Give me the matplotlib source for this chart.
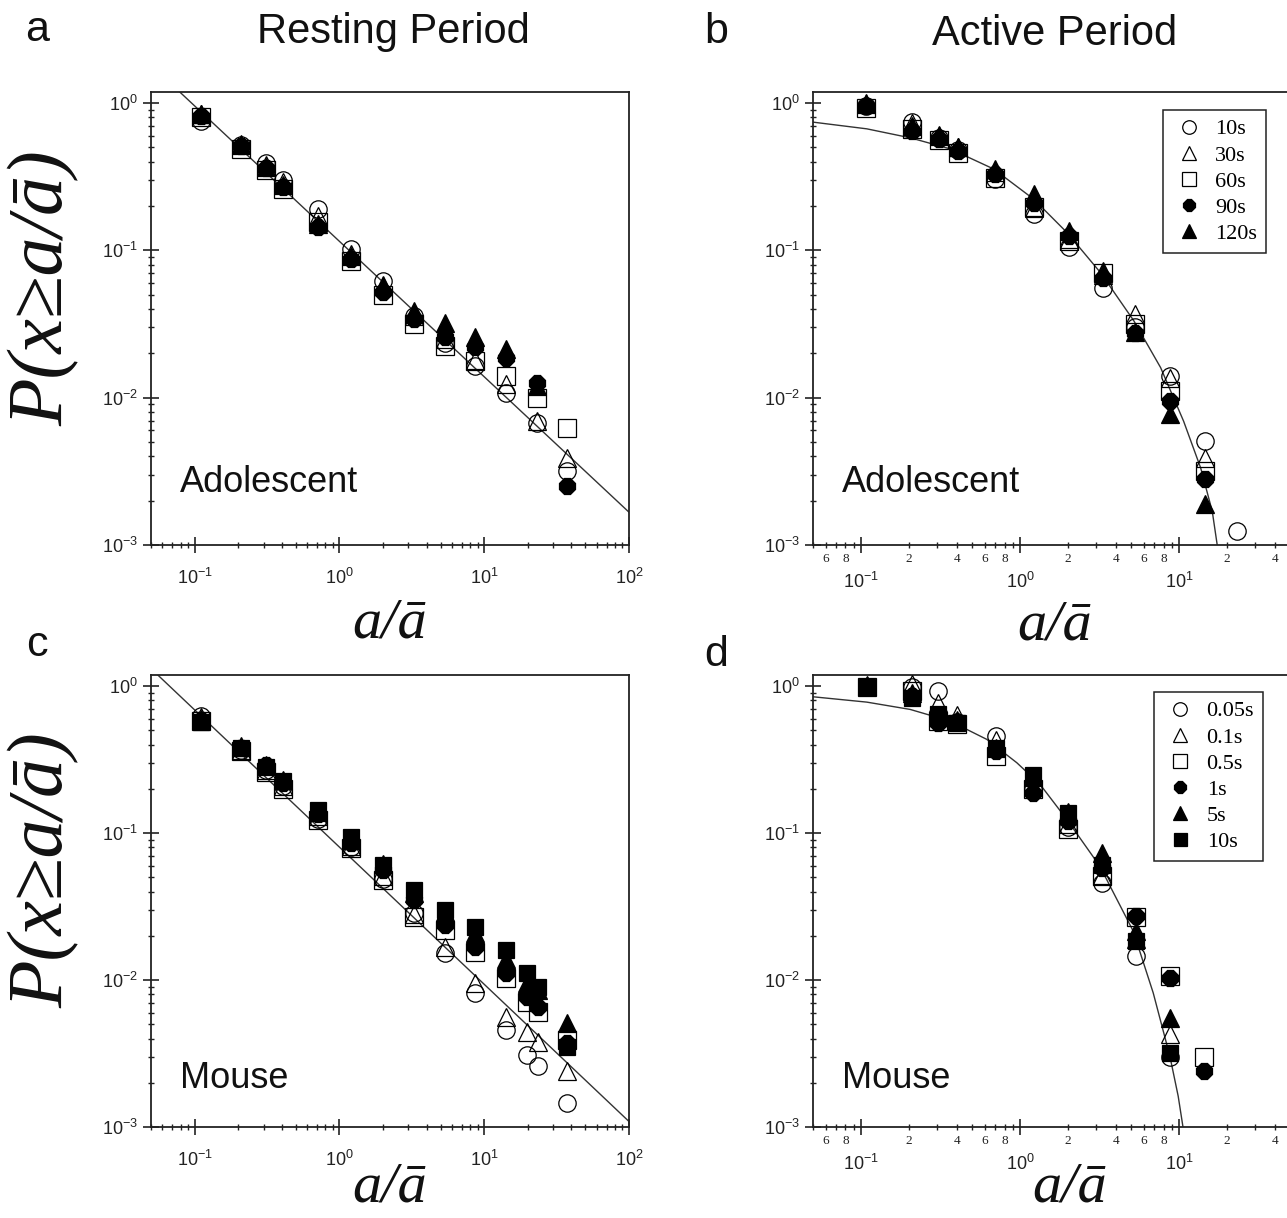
import numpy as np
import matplotlib
matplotlib.use('Agg')
import matplotlib.pyplot as plt
from matplotlib.ticker import LogLocator, FuncFormatter, NullFormatter

nan = np.nan
W, H = 1287, 1218

# ---------------- data ----------------
# Panel a: resting period, adolescent
bins_a = [0.11, 0.21, 0.31, 0.41, 0.71, 1.2, 2.0, 3.3, 5.4, 8.7, 14.2, 23, 37.5]
a_10s = [0.76, 0.52, 0.39, 0.30, 0.19, 0.102, 0.062, 0.036, 0.0236, 0.0164, 0.0108, 0.0067, 0.0032]
a_30s = [0.85, 0.52, 0.38, 0.29, 0.17, 0.095, 0.058, 0.036, 0.025, 0.018, 0.0123, 0.0070, 0.0039]
a_60s = [0.80, 0.49, 0.35, 0.26, 0.155, 0.085, 0.050, 0.0316, 0.0224, 0.0178, 0.014, 0.0100, 0.0062]
a_90s = [0.82, 0.51, 0.36, 0.27, 0.145, 0.088, 0.052, 0.034, 0.026, 0.022, 0.0186, 0.0126, 0.0025]
a_120s = [0.84, 0.53, 0.37, 0.28, 0.15, 0.092, 0.057, 0.039, 0.032, 0.026, 0.0213, 0.012, nan]
fit_a_x = [0.079, 100]
fit_a_y = [1.19, 0.00167]

# Panel b: active period, adolescent
bins_b = [0.107, 0.209, 0.308, 0.41, 0.70, 1.22, 2.03, 3.32, 5.33, 8.77, 14.6, 23.3]
b_10s = [0.95, 0.74, 0.58, 0.48, 0.306, 0.177, 0.105, 0.056, 0.030, 0.014, 0.0051, 0.00125]
b_30s = [0.98, 0.73, 0.60, 0.50, 0.34, 0.195, 0.12, 0.068, 0.0368, 0.0137, 0.0039, nan]
b_60s = [0.93, 0.67, 0.56, 0.46, 0.31, 0.196, 0.116, 0.0707, 0.0316, 0.0111, 0.0032, nan]
b_90s = [0.95, 0.65, 0.57, 0.47, 0.33, 0.21, 0.125, 0.0654, 0.0276, 0.0095, 0.0028, nan]
b_120s = [1.0, 0.70, 0.61, 0.50, 0.357, 0.241, 0.136, 0.073, 0.028, 0.0077, 0.0019, nan]
fit_b_x = [0.05, 0.109, 0.205, 0.365, 0.684, 1.22, 1.98, 3.21, 5.21, 7.67, 10.7, 13.7, 16.2, 17.4]
fit_b_y = [0.743, 0.669, 0.581, 0.489, 0.357, 0.223, 0.132, 0.0707, 0.0332, 0.0160, 0.00692, 0.00333, 0.00169, 0.001]

# Panel c: resting period, mouse
bins_c = [0.11, 0.21, 0.31, 0.41, 0.71, 1.2, 2.0, 3.3, 5.4, 8.7, 14.2, 19.8, 23.4, 37.5]
c_005s = [0.63, 0.37, 0.27, 0.21, 0.125, 0.080, 0.049, 0.0285, 0.0152, 0.0081, 0.0046, 0.0031, 0.0026, 0.00146]
c_01s = [0.62, 0.37, 0.27, 0.21, 0.13, 0.082, 0.051, 0.028, 0.0169, 0.0095, 0.0056, 0.0044, 0.0038, 0.0024]
c_05s = [0.58, 0.36, 0.26, 0.20, 0.123, 0.079, 0.048, 0.027, 0.0219, 0.0156, 0.0103, 0.0071, 0.0061, 0.0039]
c_1s = [0.59, 0.38, 0.29, 0.22, 0.135, 0.086, 0.056, 0.035, 0.0237, 0.0169, 0.0111, 0.0077, 0.0066, 0.0037]
c_5s = [0.60, 0.39, 0.29, 0.23, 0.14, 0.090, 0.062, 0.039, 0.029, 0.021, 0.014, 0.0095, 0.0085, 0.0051]
c_10s = [0.57, 0.38, 0.28, 0.225, 0.144, 0.0945, 0.0607, 0.041, 0.030, 0.0231, 0.016, 0.0111, 0.009, 0.0035]
fit_c_x = [0.0557, 100]
fit_c_y = [1.19, 0.00109]

# Panel d: active period, mouse
bins_d = [0.109, 0.209, 0.307, 0.40, 0.708, 1.2, 2.02, 3.30, 5.37, 8.77, 14.4]
d_005s = [0.98, 0.98, 0.925, 0.57, 0.457, 0.20, 0.11, 0.046, 0.0145, 0.0030, nan]
d_01s = [1.0, 1.03, 0.77, 0.64, 0.43, 0.21, 0.115, 0.052, 0.019, 0.0043, nan]
d_05s = [0.98, 0.92, 0.578, 0.55, 0.334, 0.198, 0.106, 0.051, 0.0267, 0.0106, 0.0030]
d_1s = [0.98, 0.86, 0.563, 0.57, 0.361, 0.188, 0.12, 0.058, 0.0272, 0.0103, 0.0024]
d_5s = [1.01, 0.90, 0.62, 0.59, 0.38, 0.24, 0.14, 0.073, 0.0215, 0.0055, nan]
d_10s = [0.98, 0.83, 0.641, 0.56, 0.38, 0.25, 0.137, 0.061, 0.0184, 0.0032, nan]
fit_d_x = [0.05, 0.109, 0.204, 0.364, 0.619, 0.956, 1.34, 1.97, 3.18, 5.16, 6.89, 8.77, 9.89, 10.6]
fit_d_y = [0.846, 0.778, 0.694, 0.578, 0.434, 0.301, 0.214, 0.124, 0.0595, 0.0215, 0.00817, 0.00303, 0.00162, 0.001]

labels_adol = ['10s', '30s', '60s', '90s', '120s']
labels_mouse = ['0.05s', '0.1s', '0.5s', '1s', '5s', '10s']

# ---------------- style ----------------
SANS = 'Liberation Sans'
SERIF = 'Liberation Serif'
plt.rcParams['font.family'] = [SANS, 'DejaVu Sans']
plt.rcParams['mathtext.fontset'] = 'custom'
plt.rcParams['mathtext.rm'] = SANS
plt.rcParams['mathtext.it'] = SANS + ':italic'

marker_styles = [('o', 'none', 12.5), ('^', 'none', 12.5), ('s', 'none', 12.5),
                 ('8', 'black', 12.0), ('^', 'black', 12.5), ('s', 'black', 12.0)]

fig = plt.figure(figsize=(W / 100, H / 100), dpi=100)


def px_axes(x0, y0, x1, y1):
    return fig.add_axes([x0 / W, 1 - y1 / H, (x1 - x0) / W, (y1 - y0) / H])


def major_fmt(v, pos):
    if v > 50:
        return ''
    e = int(round(np.log10(v)))
    return r'$\mathregular{10^{%d}}$' % e


def major_fmt_full(v, pos):
    e = int(round(np.log10(v)))
    return r'$\mathregular{10^{%d}}$' % e


def minor_fmt(v, pos):
    if v > 45:
        return ''
    m = v / 10 ** np.floor(np.log10(v) + 1e-9)
    m = int(round(m))
    return str(m) if m in (2, 4, 6, 8) else ''


def setup(ax, minor_labels):
    ax.set_xscale('log')
    ax.set_yscale('log')
    ax.set_xlim(0.05, 100)
    ax.set_ylim(1e-3, 1.19)
    for s in ax.spines.values():
        s.set_linewidth(1.3)
        s.set_color('#222222')
    ax.xaxis.set_major_locator(LogLocator(base=10, numticks=10))
    ax.yaxis.set_major_locator(LogLocator(base=10, numticks=10))
    ax.xaxis.set_minor_locator(LogLocator(base=10, subs=np.arange(2, 10), numticks=20))
    ax.yaxis.set_minor_locator(LogLocator(base=10, subs=np.arange(2, 10), numticks=20))
    ax.yaxis.set_major_formatter(FuncFormatter(major_fmt_full))
    ax.yaxis.set_minor_formatter(NullFormatter())
    ax.tick_params(which='major', direction='inout', length=11, width=1.2, color='#222222',
                   labelsize=13, labelfontfamily=SANS, labelcolor='#222222')
    ax.tick_params(which='minor', direction='inout', length=5, width=1.0, color='#222222')
    ax.tick_params(axis='y', which='major', pad=4)
    if minor_labels:
        ax.xaxis.set_major_formatter(FuncFormatter(major_fmt))
        ax.xaxis.set_minor_formatter(FuncFormatter(minor_fmt))
        ax.tick_params(axis='x', which='minor', labelsize=9.5, labelfontfamily=SERIF, pad=3,
                       labelcolor='#222222')
        ax.tick_params(axis='x', which='major', pad=14)
    else:
        ax.xaxis.set_major_formatter(FuncFormatter(major_fmt_full))
        ax.xaxis.set_minor_formatter(NullFormatter())
        ax.tick_params(axis='x', which='major', pad=11)


def draw(ax, bins, series, labels, fit_x, fit_y):
    ax.plot(fit_x, fit_y, color='#333333', lw=1.0, zorder=1)
    handles = []
    for (mk, fc, ms), ys, lab in zip(marker_styles, series, labels):
        h, = ax.plot(bins, ys, linestyle='none', marker=mk, markersize=ms,
                     markerfacecolor=fc, markeredgecolor='black', markeredgewidth=0.9,
                     label=lab, zorder=3, clip_on=False)
        handles.append(h)
    return handles


ax_a = px_axes(151, 92, 629, 545)
ax_b = px_axes(813, 92, 1338, 545)
ax_c = px_axes(151, 675, 629, 1127)
ax_d = px_axes(813, 675, 1338, 1127)

setup(ax_a, False)
setup(ax_b, True)
setup(ax_c, False)
setup(ax_d, True)

draw(ax_a, bins_a, [a_10s, a_30s, a_60s, a_90s, a_120s], labels_adol, fit_a_x, fit_a_y)
hb = draw(ax_b, bins_b, [b_10s, b_30s, b_60s, b_90s, b_120s], labels_adol, fit_b_x, fit_b_y)
draw(ax_c, bins_c, [c_005s, c_01s, c_05s, c_1s, c_5s, c_10s], labels_mouse, fit_c_x, fit_c_y)
hd = draw(ax_d, bins_d, [d_005s, d_01s, d_05s, d_1s, d_5s, d_10s], labels_mouse, fit_d_x, fit_d_y)

for ax, handles, right, top in ((ax_b, hb, 1266, 110), (ax_d, hd, 1263, 692)):
    leg = fig.legend(handles=handles, loc='upper right', bbox_to_anchor=(right / W, 1 - top / H),
                     frameon=True, fancybox=False, framealpha=1, edgecolor='#222222',
                     prop={'family': SERIF, 'size': 16}, markerscale=0.78,
                     handlelength=1.5, handletextpad=0.45, labelspacing=0.25,
                     borderpad=0.4, borderaxespad=0)
    leg.get_frame().set_linewidth(1.1)


def ftext(x, y, s, **kw):
    fig.text(x / W, 1 - y / H, s, **kw)


# panel letters and titles
for x, y, s in ((37, 30, 'a'), (716, 32, 'b'), (37, 645, 'c'), (716, 655, 'd')):
    ftext(x, y, s, fontsize=31, family=SANS, ha='center', va='center', color='#111111')
ftext(393, 32, 'Resting Period', fontsize=30, family=SANS, ha='center', va='center', color='#111111')
ftext(1055, 34, 'Active Period', fontsize=30, family=SANS, ha='center', va='center', color='#111111')

# group labels
for x, y, s in ((180, 483, 'Adolescent'), (842, 483, 'Adolescent'),
                (180, 1079, 'Mouse'), (842, 1079, 'Mouse')):
    ftext(x, y, s, fontsize=26, family=SANS, ha='left', va='center', color='#111111')

# axis labels
ylab = 'P(x\u2265a/\u0101)'
xlab = 'a/\u0101'
for y in (288, 870):
    ftext(44, y, ylab, fontsize=56, family=[SERIF, 'DejaVu Serif'], style='italic', rotation=90,
          ha='center', va='center', color='#111111')
for x, y in ((390, 637), (1055, 639), (390, 1202), (1070, 1202)):
    ftext(x, y, xlab, fontsize=42, family=[SERIF, 'DejaVu Serif'], style='italic',
          ha='center', va='baseline', color='#111111')

fig.savefig('out.png', dpi=100)
